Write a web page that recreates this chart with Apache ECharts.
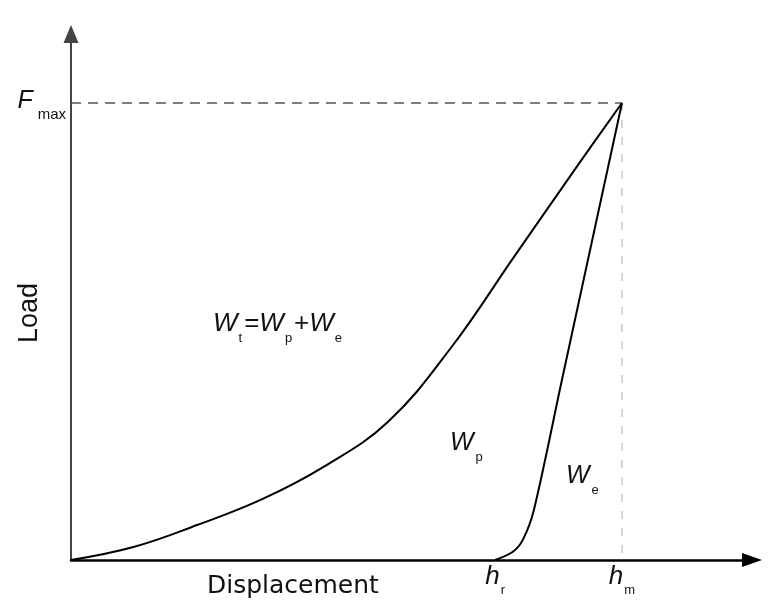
<!DOCTYPE html>
<html><head><meta charset="utf-8">
<script src="https://cdn.jsdelivr.net/npm/echarts@6/dist/echarts.min.js"></script>
<style>html,body{margin:0;padding:0;background:#fff}#c{width:768px;height:614px}</style>
</head><body><div id="c"></div>
<script>
// Displacement normalised so that h_m = 100, load normalised so that F_max = 100
const loadingX = [0, 11.5, 23, 34.5, 46, 57.5, 69, 80.5, 92, 100];
const loadingY = [0, 2.9, 7.7, 13.2, 20.5, 30.2, 46.5, 66.5, 86.4, 100];
const unloadingX = [100, 89.1, 84.0, 82.0, 80.2, 77.0];
const unloadingY = [100, 39.4, 10.9, 4.4, 1.8, 0];
const Fmax = 100;
const hm = 100;
const hr = 77;
const xTickValues = [hr, hm];
const xTickLabels = ['{h|h}{s|r}', '{h|h}{s|m}'];
const yTickValues = [Fmax];
const yTickLabels = ['{f|F}{s|max}'];
const xAxisName = 'Displacement';
const yAxisName = 'Load';

const zip = (a, b) => a.map((v, i) => [v, b[i]]);
const chart = echarts.init(document.getElementById('c'));
const black = '#111';
chart.setOption({
  backgroundColor: '#fff',
  animation: false,
  grid: { left: 71, right: 16, top: 34, bottom: 54, containLabel: false, outerBoundsMode: 'none' },
  xAxis: {
    type: 'value', min: 0, max: 123.6,
    axisLine: { show: true, lineStyle: { color: '#000', width: 2.5 }, symbol: ['none', 'triangle'], symbolSize: [14, 20] },
    axisTick: { show: false }, splitLine: { show: false },
    axisLabel: {
      customValues: xTickValues, margin: 4,
      formatter: v => xTickLabels[xTickValues.indexOf(v)] || '',
      rich: {
        h: { fontFamily: 'Liberation Sans', fontStyle: 'italic', fontSize: 26, lineHeight: 28, verticalAlign: 'top', color: black },
        s: { fontFamily: 'Liberation Sans', fontSize: 13, lineHeight: 13, padding: [20, 0, 0, 1], verticalAlign: 'top', color: black }
      }
    }
  },
  yAxis: {
    type: 'value', min: 0, max: 115.1,
    axisLine: { show: true, lineStyle: { color: '#444', width: 2 }, symbol: ['none', 'triangle'], symbolSize: [15, 18] },
    axisTick: { show: false }, splitLine: { show: false },
    axisLabel: {
      customValues: yTickValues, margin: 5,
      formatter: v => yTickLabels[yTickValues.indexOf(v)] || '',
      rich: {
        f: { fontFamily: 'Liberation Sans', fontStyle: 'italic', fontSize: 25, lineHeight: 28, verticalAlign: 'top', color: black },
        s: { fontFamily: 'Liberation Sans', fontSize: 15, lineHeight: 15, padding: [18, 0, 0, 5], verticalAlign: 'top', color: black }
      }
    }
  },
  series: [
    { type: 'line', data: [[0, Fmax], [hm, Fmax]], symbol: 'none', silent: true, z: 1,
      lineStyle: { color: '#555', width: 1.5, type: [10, 7] } },
    { type: 'line', data: [[hm, Fmax], [hm, 0]], symbol: 'none', silent: true, z: 1,
      lineStyle: { color: '#c8c8c8', width: 1.5, type: [8, 9] } },
    { type: 'line', data: zip(loadingX, loadingY), symbol: 'none', smooth: 0.4, z: 3,
      lineStyle: { color: '#000', width: 2 } },
    { type: 'line', data: zip(unloadingX, unloadingY), symbol: 'none', smooth: 0.3, z: 3,
      lineStyle: { color: '#000', width: 2 } }
  ],
  graphic: [
    { type: 'text', left: 207, top: 574, style: { text: xAxisName, fontFamily: 'DejaVu Sans', fontSize: 25, fill: black } },
    { type: 'text', x: 30, y: 313, rotation: Math.PI / 2,
      style: { text: yAxisName, fontFamily: 'Liberation Sans', fontSize: 27, fill: black, align: 'center', verticalAlign: 'middle' } },
    { type: 'text', left: 213, top: 311, style: {
      text: '{w|W}{s|t}{o|=}{w|W}{s|p}{o|+}{w|W}{s|e}',
      rich: {
        w: { fontFamily: 'Liberation Sans', fontStyle: 'italic', fontSize: 26, lineHeight: 28, verticalAlign: 'top', fill: black },
        o: { fontFamily: 'Liberation Sans', fontSize: 26, lineHeight: 28, verticalAlign: 'top', fill: black },
        s: { fontFamily: 'Liberation Sans', fontSize: 13, lineHeight: 13, padding: [21, 2, 0, 1], verticalAlign: 'top', fill: black }
      } } },
    { type: 'text', left: 450, top: 431, style: {
      text: '{w|W}{s|p}',
      rich: {
        w: { fontFamily: 'Liberation Sans', fontStyle: 'italic', fontSize: 25, lineHeight: 28, verticalAlign: 'top', fill: black },
        s: { fontFamily: 'Liberation Sans', fontSize: 13, lineHeight: 13, padding: [20, 0, 0, 2], verticalAlign: 'top', fill: black }
      } } },
    { type: 'text', left: 566, top: 464, style: {
      text: '{w|W}{s|e}',
      rich: {
        w: { fontFamily: 'Liberation Sans', fontStyle: 'italic', fontSize: 25, lineHeight: 28, verticalAlign: 'top', fill: black },
        s: { fontFamily: 'Liberation Sans', fontSize: 13, lineHeight: 13, padding: [20, 0, 0, 2], verticalAlign: 'top', fill: black }
      } } }
  ]
});
</script></body></html>
